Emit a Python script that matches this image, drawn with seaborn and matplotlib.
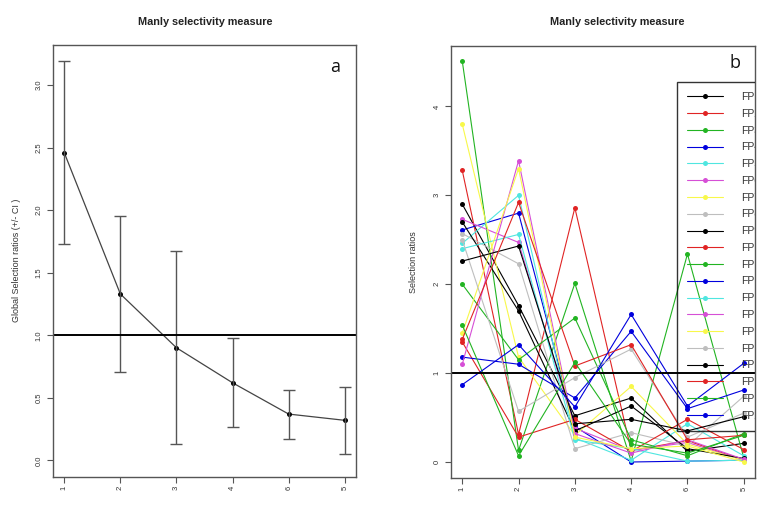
import numpy as np
import pandas as pd
import matplotlib
matplotlib.use("Agg")
import matplotlib.pyplot as plt
import seaborn as sns

# ---------------- data ----------------
categories = ["1", "2", "3", "4", "6", "5"]

global_mean = [2.46, 1.33, 0.90, 0.62, 0.37, 0.32]
global_upper = [3.19, 1.95, 1.67, 0.98, 0.56, 0.59]
global_lower = [1.73, 0.71, 0.13, 0.27, 0.17, 0.05]

series_names = [f"FP{i}" for i in range(1, 21)]
series_colors = ["#000000", "#E02424", "#22B422", "#0000DD", "#4FE6E0", "#D64FD6",
                 "#F8F84A", "#BEBEBE"] * 2 + ["#000000", "#E02424", "#22B422", "#0000DD"]

fp1 = [2.90, 1.76, 0.52, 0.72, 0.12, 0.21]
fp2 = [3.28, 0.31, 2.86, 0.13, 0.24, 0.02]
fp3 = [4.51, 0.13, 2.01, 0.01, 2.34, 0.05]
fp4 = [2.61, 2.80, 0.40, 0.00, 0.01, 0.02]
fp5 = [2.46, 3.00, 0.27, 0.02, 0.43, 0.07]
fp6 = [2.73, 2.47, 0.38, 0.13, 0.22, 0.02]
fp7 = [3.80, 1.18, 0.30, 0.85, 0.20, 0.02]
fp8 = [2.57, 2.23, 0.15, 0.33, 0.18, 0.74]
fp9 = [2.70, 1.70, 0.35, 0.63, 0.15, 0.04]
fp10 = [1.35, 0.28, 0.48, 0.12, 0.48, 0.14]
fp11 = [2.00, 1.15, 1.62, 0.25, 0.07, 0.32]
fp12 = [1.18, 1.10, 0.72, 1.47, 0.60, 0.81]
fp13 = [2.40, 2.56, 0.25, 0.15, 0.01, 0.02]
fp14 = [1.10, 3.39, 0.32, 0.10, 0.25, 0.03]
fp15 = [1.45, 3.30, 0.28, 0.15, 0.18, 0.00]
fp16 = [2.50, 0.57, 0.95, 1.27, 0.28, 0.55]
fp17 = [2.26, 2.43, 0.43, 0.48, 0.35, 0.51]
fp18 = [1.38, 2.92, 1.08, 1.32, 0.25, 0.30]
fp19 = [1.54, 0.07, 1.12, 0.20, 0.10, 0.30]
fp20 = [0.87, 1.32, 0.62, 1.66, 0.63, 1.11]
series_values = [fp1, fp2, fp3, fp4, fp5, fp6, fp7, fp8, fp9, fp10,
                 fp11, fp12, fp13, fp14, fp15, fp16, fp17, fp18, fp19, fp20]

# ---------------- style ----------------
sns.set_style("white")
plt.rcParams["font.family"] = ["Liberation Sans", "DejaVu Sans"]

W, H = 770, 513
fig = plt.figure(figsize=(W / 100, H / 100), dpi=100)

def px_axes(l, t, r, b):
    return fig.add_axes([l / W, 1 - b / H, (r - l) / W, (b - t) / H])

spine_col = "#555555"

def style_axes(ax):
    for s in ax.spines.values():
        s.set_color(spine_col)
        s.set_linewidth(1.0)
        s.set_visible(True)
    ax.tick_params(axis="both", which="major", direction="out", length=4,
                   width=0.8, color=spine_col, labelsize=5.5, labelcolor="#333333",
                   left=True, bottom=True)
    ax.tick_params(axis="x", labelrotation=90, pad=2)
    ax.tick_params(axis="y", labelrotation=90, pad=3.5)
    for lab in ax.get_yticklabels():
        lab.set_va("center")
    ax.grid(False)

# ---------------- left panel ----------------
axL = px_axes(53, 45, 356, 477)
dfL = pd.DataFrame({"cat": categories, "mean": global_mean})
sns.lineplot(data=dfL, x="cat", y="mean", ax=axL, sort=False, color="#444444",
             linewidth=0.9, marker="o", markersize=3.6, markerfacecolor="black",
             markeredgewidth=0)
m = np.array(global_mean)
yerr = [m - np.array(global_lower), np.array(global_upper) - m]
axL.errorbar(categories, global_mean, yerr=yerr, fmt="none", ecolor="#555555",
             elinewidth=1.0, capsize=4, capthick=1.0)
axL.axhline(1.0, color="black", linewidth=1.4)
axL.set_xlim(-0.2, 5.2)
axL.set_ylim(-0.133, 3.32)
axL.set_yticks([0.0, 0.5, 1.0, 1.5, 2.0, 2.5, 3.0])
axL.set_yticklabels(["0.0", "0.5", "1.0", "1.5", "2.0", "2.5", "3.0"])
axL.set_xlabel("")
axL.set_ylabel("")
style_axes(axL)
fig.text(17 / W, 1 - 260 / H, "Global Selection ratios (+/- CI )", rotation=90,
         ha="center", va="center", fontsize=6.5, color="#333333")
fig.text(205 / W, 1 - 22 / H, "Manly selectivity measure", ha="center", va="center",
         fontsize=7.8, fontweight="bold", color="#222222")
fig.text(335 / W, 1 - 67 / H, "a", ha="center", va="center", fontsize=13,
         family=["Open Sans", "DejaVu Sans"], color="#111111")

# ---------------- right panel ----------------
axR = px_axes(451, 46, 755, 478)
rows = []
for name, vals in zip(series_names, series_values):
    for c, v in zip(categories, vals):
        rows.append({"cat": c, "value": v, "series": name})
dfR = pd.DataFrame(rows)
sns.lineplot(data=dfR, x="cat", y="value", hue="series", hue_order=series_names,
             palette=series_colors, ax=axR, sort=False, estimator=None,
             linewidth=0.8, marker="o", markersize=3.6, markeredgewidth=0,
             legend="full")
axR.axhline(1.0, color="black", linewidth=1.4)
axR.set_xlim(-0.2, 5.2)
axR.set_ylim(-0.18, 4.68)
axR.set_yticks([0, 1, 2, 3, 4])
axR.set_yticklabels(["0", "1", "2", "3", "4"])
axR.set_xlabel("")
axR.set_ylabel("")
style_axes(axR)

handles, labels = axR.get_legend_handles_labels()
handles = [h for h, l in zip(handles, labels) if l in series_names]
labels = [l for l in labels if l in series_names]
leg = axR.legend(handles, labels, loc="upper left",
                 bbox_to_anchor=(677 / W, 1 - 82 / H), bbox_transform=fig.transFigure,
                 frameon=True, fancybox=False, edgecolor="black",
                 fontsize=7.5, handlelength=3.47, handletextpad=1.7, borderpad=0.96,
                 labelspacing=0.65, borderaxespad=0)
leg.get_frame().set_linewidth(1.0)
leg.get_frame().set_facecolor("none")
for t in leg.get_texts():
    t.set_color("#333333")
# legend is clipped to the plotting region, as in the original
for a in leg.findobj():
    if a is leg:
        continue
    a.set_clip_on(True)
    a.set_clip_box(axR.bbox)

fig.text(413 / W, 1 - 262 / H, "Selection ratios", rotation=90, ha="center",
         va="center", fontsize=6.5, color="#333333")
fig.text(617 / W, 1 - 22 / H, "Manly selectivity measure", ha="center", va="center",
         fontsize=7.8, fontweight="bold", color="#222222")
fig.text(735 / W, 1 - 63 / H, "b", ha="center", va="center", fontsize=13,
         family=["Open Sans", "DejaVu Sans"], color="#111111")

fig.savefig("out.png", dpi=100)
